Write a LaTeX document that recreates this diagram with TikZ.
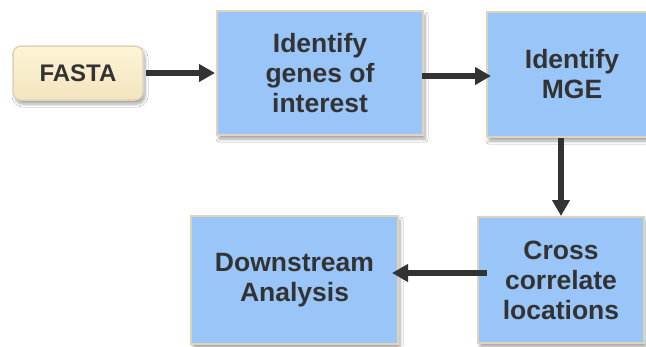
\documentclass[tikz,border=0pt]{standalone}
\usepackage{fontspec}
\setmainfont{Liberation Sans}
\usetikzlibrary{arrows.meta,shadows.blur}
\definecolor{boxblue}{HTML}{99C5F8}
\definecolor{boxedge}{HTML}{DDD4BA}
\definecolor{txt}{HTML}{333333}
\definecolor{ftop}{HTML}{FEF5D6}
\definecolor{fbot}{HTML}{F2E4BE}
\begin{document}
\begin{tikzpicture}[x=1pt,y=-1pt,
  shd/.style={blur shadow={shadow xshift=2pt,shadow yshift=-4pt,shadow blur steps=6,shadow opacity=35,shadow blur radius=3pt}},
  stepbox/.style={shd,draw=boxedge,line width=2pt,fill=boxblue,inner sep=0pt,align=center,
     text=txt,font=\fontsize{26.5}{30}\selectfont\bfseries},
  startbox/.style={shd,draw=boxedge,line width=1.5pt,top color=ftop,bottom color=fbot,rounded corners=8pt,
     inner sep=0pt,text=txt,font=\fontsize{24}{28}\selectfont\bfseries},
  conn/.style={draw=txt,line width=6.5pt,-{Triangle[length=16pt,width=17pt]}}]
\fill[white] (0,0) rectangle (646,346);
\useasboundingbox (0,0) rectangle (646,346);
\clip (0,0) rectangle (646,346);
\node[startbox,minimum width=130pt,minimum height=54pt] (fasta) at (78,73) {FASTA};
\node[stepbox,minimum width=206pt,minimum height=124pt] (genes) at (320,73) {Identify\\genes of\\interest};
\node[stepbox,minimum width=170pt,minimum height=125pt] (mge) at (572,74.5) {Identify\\MGE};
\node[stepbox,minimum width=166pt,minimum height=126pt] (cross) at (561,280) {Cross\\correlate\\locations};
\node[stepbox,minimum width=207pt,minimum height=128pt] (down) at (294.5,280) {Downstream\\Analysis};
\draw[conn] ([xshift=2pt]fasta.east) -- ([xshift=-1pt]genes.west);
\draw[conn,shorten >=-5pt] ([xshift=-2pt,yshift=-3pt]genes.east) -- ([yshift=-3pt]genes.east -| mge.west);
\draw[conn] (mge.south -| cross.north) -- (cross.north);
\draw[conn,shorten <=-10pt,shorten >=-7pt] ([yshift=7pt]cross.west) -- ([yshift=7pt]cross.west -| down.east);
\end{tikzpicture}
\end{document}
